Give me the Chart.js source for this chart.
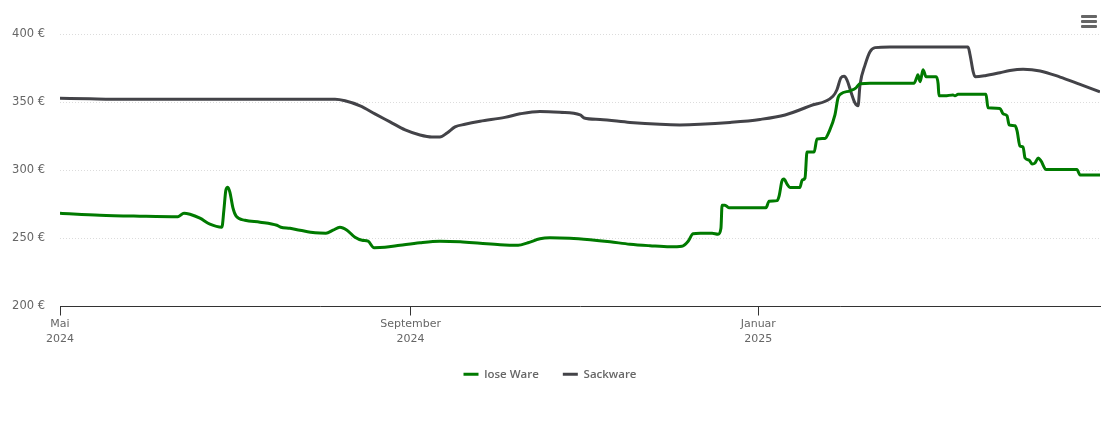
<!DOCTYPE html>
<html lang="de">
<head>
<meta charset="utf-8">
<title>Preisentwicklung</title>
<script src="https://cdn.jsdelivr.net/npm/chart.js@4"></script>
<style>
  html, body { margin: 0; padding: 0; background: #fff; }
  #wrap { position: relative; width: 1110px; height: 423px; overflow: hidden; }
  canvas { display: block; }
  .menu { position: absolute; left: 1081px; top: 15px; width: 16px; }
  .menu i { display: block; height: 3px; margin-bottom: 2px; border-radius: 1px; background: #666; }
</style>
</head>
<body>
<div id="wrap">
  <canvas id="chart" width="1110" height="423"></canvas>
  <div class="menu"><i></i><i></i><i></i></div>
</div>
<script>
// days since 1 May 2024
const loseDays = [0, 14, 28, 41.4, 43.5, 45.6, 49.1, 52.6, 56.8, 57.5, 58.2, 58.9, 59.6, 60.7, 61.8, 64.9, 70.2, 76.1, 77.5, 80.7,
  84.2, 89.5, 93.3, 95.8, 98.2, 100.7, 103.5, 106, 108.1, 110.2, 114, 119.3, 126.3, 133.3, 140.4, 147.4, 154.4, 160.7, 164.2, 168.4,
  171.9, 178.9, 186, 193, 200, 207, 214, 218.2, 220.4, 222.1, 224.6, 228.8, 230.9, 231.9, 232.3, 233.3, 234.7, 238.6, 247.7, 248.8,
  251.6, 252.3, 253.3, 254, 255.1, 256.1, 259.6, 260.4, 261.4, 262.1, 264.6, 265.6, 268.4, 269.8, 271.9, 273, 274, 277.2, 279.3, 280.7,
  284.2, 299.6, 300.7, 301, 301.8, 302.8, 303.9, 307.4, 308.1, 308.4, 310.5, 313.3, 314, 315.1, 324.9, 325.6, 329.8, 330.9, 332.3, 333,
  335.1, 335.8, 336.8, 337.9, 338.6, 340, 341.1, 342.1, 343.2, 344.2, 346, 356.8, 357.9, 363.9, 364.9];
const losePrices = [268.5, 267, 266.3, 265.9, 268.5, 267.7, 264.8, 260.4, 258.2, 270.7, 285.4, 287.6, 284, 272.2, 266.3, 263.3, 261.9, 259.6, 258.2, 257.4,
  256, 254.1, 253.8, 256, 258.2, 256, 250.8, 248.6, 247.9, 243.1, 243.4, 244.9, 246.8, 247.9, 247.5, 246.4, 245.3, 244.9, 246.8, 249.7,
  250.4, 250.1, 249, 247.5, 245.7, 244.6, 243.8, 244.2, 247.9, 253.4, 253.8, 253.8, 253, 257.4, 274.4, 274.4, 272.5, 272.5, 272.5, 277.3,
  277.7, 281, 292, 293.5, 289.8, 287.3, 287.3, 292.8, 294.3, 313.4, 313.4, 323, 323.3, 328.1, 340.6, 353.2, 356.1, 358.3, 360.5, 363.5,
  363.8, 363.8, 368.6, 370.1, 365, 373.8, 368.6, 368.6, 363.5, 354.6, 354.6, 355.3, 354.6, 355.7, 355.7, 345.8, 345.4, 341.4, 339.9, 333.3,
  332.6, 328.9, 317.8, 317.1, 309, 307.5, 304.6, 305.3, 309, 306.8, 300.5, 300.5, 296.5, 296.5, 296.5];

const sackDays = [0, 10.5, 22.8, 49.1, 77.2, 96.5, 100, 105.3, 110.5, 115.8, 121.1, 126.3, 130.5, 133.3, 135.8, 138.6, 142.1, 147.4, 156.1, 161.4,
  168.4, 175.4, 182.5, 183.9, 189.5, 200, 210.5, 217.5, 224.6, 235.1, 245.6, 254.4, 263.2, 271.2, 272.6, 274, 275.1, 276.1, 277.5, 278.9,
  280, 280.7, 282.5, 284.2, 286, 291.2, 318.6, 319.3, 320.4, 321.1, 324.6, 329.8, 333.3, 337.9, 343.9, 350.9, 357.9, 364.9];
const sackPrices = [352.8, 352.4, 352.1, 352.1, 352.1, 352.1, 351, 347.3, 341.4, 335.5, 329.6, 325.9, 324.4, 324.4, 327.4, 331.8, 333.7, 335.9, 338.8, 341.4,
  343.2, 342.5, 340.6, 338.4, 337.3, 335.1, 333.7, 333.3, 333.7, 335.1, 337.3, 340.6, 347.3, 354.3, 359.1, 367.9, 369, 366.4, 357.6, 349.5,
  347.3, 362.7, 377.5, 387, 390, 390.4, 390.4, 384.8, 372.3, 368.6, 369.4, 371.6, 373.2, 374.1, 372.9, 368.4, 363, 357.6];

const tickDays = [0, 123, 245];
const tickLabels = [['Mai', '2024'], ['September', '2024'], ['Januar', '2025']];
const seriesNames = ['lose Ware', 'Sackware'];

const toPoints = (xs, ys) => xs.map((x, i) => ({ x, y: ys[i] }));
const textColor = '#666';

new Chart(document.getElementById('chart'), {
  type: 'line',
  data: {
    datasets: [
      {
        label: seriesNames[0],
        data: toPoints(loseDays, losePrices),
        borderColor: '#007a00',
        backgroundColor: '#007a00',
        borderWidth: 3,
        pointRadius: 0,
        cubicInterpolationMode: 'monotone'
      },
      {
        label: seriesNames[1],
        data: toPoints(sackDays, sackPrices),
        borderColor: '#434348',
        backgroundColor: '#434348',
        borderWidth: 3,
        pointRadius: 0,
        cubicInterpolationMode: 'monotone'
      }
    ]
  },
  options: {
    responsive: false,
    animation: false,
    layout: { padding: { top: 34, right: 10, bottom: 33, left: 0 } },
    plugins: {
      tooltip: { enabled: false },
      legend: {
        position: 'bottom',
        labels: {
          usePointStyle: true,
          pointStyle: 'line',
          pointStyleWidth: 15,
          boxHeight: 12,
          padding: 24,
          color: textColor,
          font: { family: '"Open Sans"', size: 11.5, weight: '600' }
        }
      }
    },
    scales: {
      x: {
        type: 'linear',
        min: 0,
        max: 364.9,
        afterBuildTicks: (scale) => {
          scale.ticks = tickDays.map((value) => ({ value }));
        },
        afterFit: (scale) => {
          scale.height = 38;
        },
        border: { color: '#333' },
        grid: { drawOnChartArea: false, tickLength: 9, tickColor: '#333' },
        ticks: {
          autoSkip: false,
          maxRotation: 0,
          padding: 1,
          color: textColor,
          font: { family: '"DejaVu Sans"', size: 11, lineHeight: 1.36 },
          callback: (value) => tickLabels[tickDays.indexOf(value)]
        }
      },
      y: {
        min: 200,
        max: 400,
        afterFit: (scale) => {
          scale.width = 60;
        },
        border: { display: false, dash: [1, 2] },
        grid: { color: '#dcdcdc', drawTicks: false },
        ticks: {
          stepSize: 50,
          padding: 15,
          color: textColor,
          font: { family: '"DejaVu Sans"', size: 11.5 },
          callback: (value) => `${value} €`
        }
      }
    }
  }
});
</script>
</body>
</html>
